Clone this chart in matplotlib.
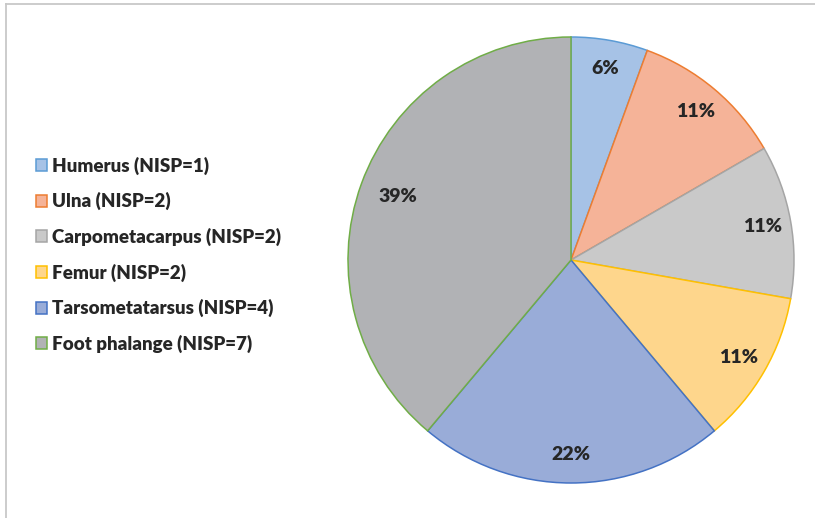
import matplotlib
matplotlib.use("Agg")
import matplotlib.pyplot as plt
from matplotlib.lines import Line2D

# data (NISP counts)
elements = ["Humerus", "Ulna", "Carpometacarpus", "Femur", "Tarsometatarsus", "Foot phalange"]
nisp = [1, 2, 2, 2, 4, 7]
legend_labels = [f"{e} (NISP={n})" for e, n in zip(elements, nisp)]

FILL = ["#a6c2e6", "#f5b398", "#c9c9c9", "#fed68c", "#99acd8", "#b1b2b5"]
EDGE = ["#5b9bd5", "#ed7d31", "#a5a5a5", "#ffc000", "#4472c4", "#70ad47"]
INK = "#262626"

plt.rcParams["font.family"] = ["Lato", "DejaVu Sans"]

W, H = 815, 518
fig = plt.figure(figsize=(W / 100, H / 100), dpi=100)

# pie axes: centre (571, 260) px, radius 223 px
cx, cy, r = 571, 260, 223
ax = fig.add_axes([(cx - r) / W, (H - cy - r) / H, 2 * r / W, 2 * r / H])
wedges, _, autotexts = ax.pie(
    nisp, colors=FILL, startangle=90, counterclock=False,
    autopct=lambda p: f"{p:.0f}%", pctdistance=0.87,
    wedgeprops=dict(linewidth=1.1),
    textprops=dict(fontsize=14, fontweight="heavy", color=INK),
)
for w, ec in zip(wedges, EDGE):
    w.set_edgecolor(ec)
x, y = autotexts[-1].get_position()
autotexts[-1].set_position((x * 0.95, y * 0.95))
ax.set_xlim(-1, 1)
ax.set_ylim(-1, 1)
ax.set_aspect("equal")

fig.legend(wedges, legend_labels, loc="upper left",
           bbox_to_anchor=(28 / W, 1 - 149 / H), frameon=False,
           prop=dict(size=13.5, weight="heavy"), labelcolor=INK,
           handlelength=0.6, handleheight=0.6, handletextpad=0.3,
           labelspacing=0.93, borderaxespad=0)

# chart-area border (top and left visible)
fig.add_artist(Line2D([6 / W, 1], [1 - 4 / H, 1 - 4 / H], color="#c8c8c8", lw=1.3))
fig.add_artist(Line2D([6 / W, 6 / W], [0, 1 - 4 / H], color="#c8c8c8", lw=1.3))

fig.savefig("out.png", dpi=100)
